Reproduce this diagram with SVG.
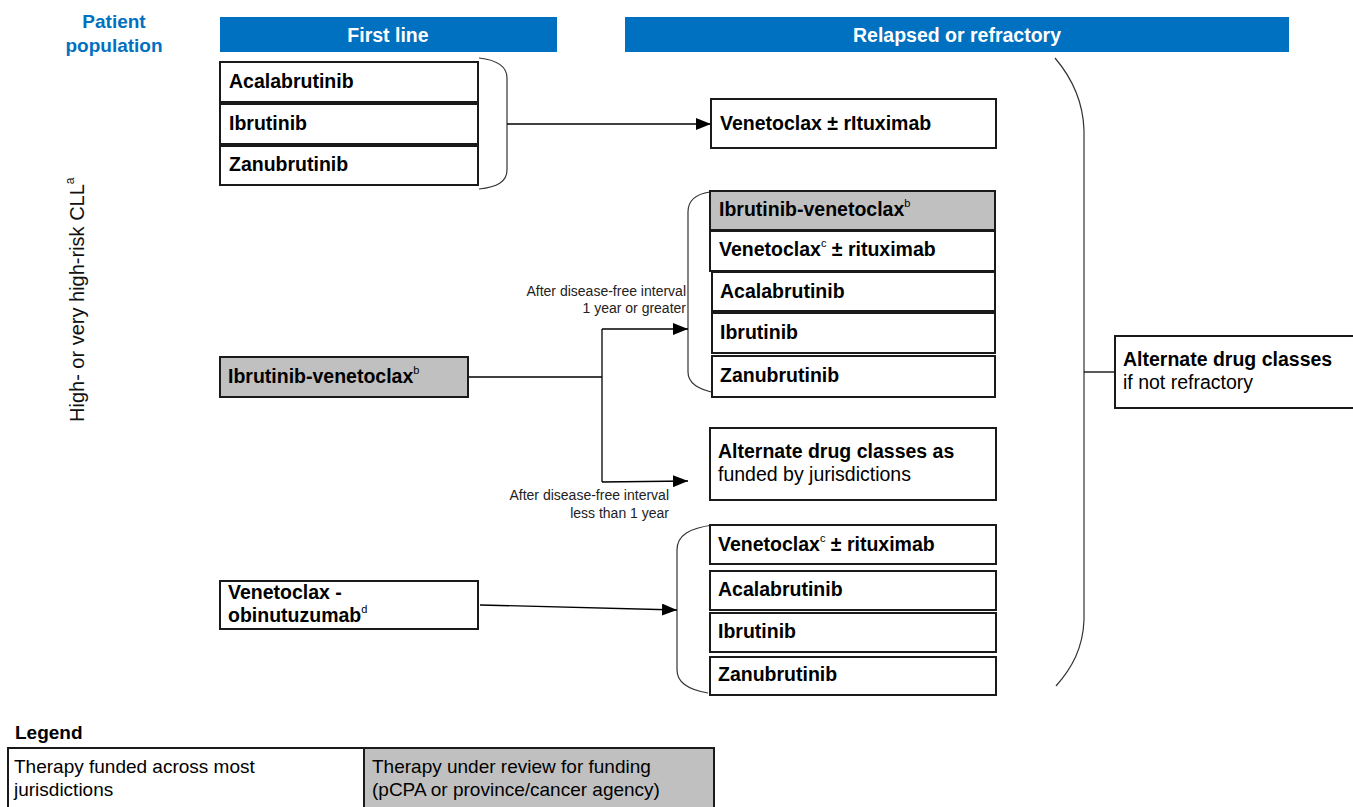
<svg xmlns="http://www.w3.org/2000/svg" width="1353" height="807" viewBox="0 0 1353 807">
<style>
.box{fill:#fff;stroke:#1a1a1a;stroke-width:2}
.gray{fill:#c0c0c0}
.hdr{fill:#0070c0}
.t{font-family:"Liberation Sans",Arial,sans-serif;font-size:19.5px;font-weight:bold;fill:#000}
.r{font-weight:normal}
.sup{font-size:11px;font-weight:normal}
.ht{font-family:"Liberation Sans",Arial,sans-serif;font-size:19.5px;font-weight:bold;fill:#fff;text-anchor:middle}
.pp{font-family:"Liberation Sans",Arial,sans-serif;font-size:19px;font-weight:bold;fill:#0070c0;text-anchor:middle}
.lbl{font-family:"Liberation Sans",Arial,sans-serif;font-size:14px;fill:#222;text-anchor:end}
.vl{font-family:"Liberation Sans",Arial,sans-serif;font-size:20px;fill:#111}
.lg{font-family:"Liberation Sans",Arial,sans-serif;font-size:19px;fill:#000}
.brace{fill:none;stroke:#333;stroke-width:1.2}
.conn{fill:none;stroke:#000;stroke-width:1.3}
</style>
<defs>
<marker id="arr" markerUnits="userSpaceOnUse" markerWidth="16" markerHeight="12" refX="15" refY="6" orient="auto">
<path d="M0,0 L15,6 L0,12 z" fill="#000"/>
</marker>
</defs>
<rect width="1353" height="807" fill="#fff"/>

<g id="headers">
<rect class="hdr" x="220" y="17" width="337" height="35"/>
<text class="ht" x="388" y="42">First line</text>
<rect class="hdr" x="625" y="17" width="664" height="35"/>
<text class="ht" x="957" y="42">Relapsed or refractory</text>
<text class="pp" x="114" y="28">Patient</text>
<text class="pp" x="114" y="52">population</text>
</g>

<g id="population-label">
<text class="vl" transform="translate(84,422) rotate(-90)">High- or very high-risk CLL<tspan dy="-10" font-size="12">a</tspan></text>
</g>

<g id="connectors">
<path class="brace" d="M479,58 C497,60 507,66 507,78 L507,170 C507,182 497,187 479,189"/>
<path class="conn" d="M507,124 L711,124" marker-end="url(#arr)"/>
<path class="brace" d="M710,192 C696,194 688,200 688,212 L688,372 C688,384 700,390 716,393"/>
<path class="conn" d="M468,377 L602,377"/>
<path class="conn" d="M602,329 L602,482"/>
<path class="conn" d="M602,329 L688,329" marker-end="url(#arr)"/>
<path class="conn" d="M602,482 L688,481" marker-end="url(#arr)"/>
<path class="brace" d="M713,525 C690,528 677,535 677,550 L677,670 C677,683 690,690 708,693"/>
<path class="conn" d="M480,605 L677,610" marker-end="url(#arr)"/>
<path class="brace" d="M1055,58 C1072,78 1083,100 1084,130 L1084,620 C1083,648 1072,668 1056,686"/>
<path class="conn" d="M1084,372 L1115,372"/>
<text class="lbl" x="686" y="296">After disease-free interval</text>
<text class="lbl" x="686" y="313">1 year or greater</text>
<text class="lbl" x="669" y="500">After disease-free interval</text>
<text class="lbl" x="669" y="518">less than 1 year</text>
</g>

<g id="fl-acalabrutinib"><rect class="box" x="220" y="62" width="258" height="40"/><text class="t" x="229" y="88">Acalabrutinib</text></g>
<g id="fl-ibrutinib"><rect class="box" x="220" y="104" width="258" height="40"/><text class="t" x="229" y="130">Ibrutinib</text></g>
<g id="fl-zanubrutinib"><rect class="box" x="220" y="146" width="258" height="39"/><text class="t" x="229" y="171">Zanubrutinib</text></g>
<g id="fl-ibrutinib-venetoclax"><rect class="box gray" x="220" y="357" width="248" height="40"/><text class="t" x="228" y="383">Ibrutinib-venetoclax<tspan class="sup" dy="-9">b</tspan></text></g>
<g id="fl-venetoclax-obinutuzumab"><rect class="box" x="220" y="581" width="258" height="48"/><text class="t" x="228" y="599">Venetoclax -</text><text class="t" x="228" y="622">obinutuzumab<tspan class="sup" dy="-9">d</tspan></text></g>

<g id="rr-venetoclax-rituximab"><rect class="box" x="711" y="99" width="285" height="49"/><text class="t" x="720" y="130">Venetoclax ± rItuximab</text></g>

<g id="rr2-ibrutinib-venetoclax"><rect class="box gray" x="710" y="191" width="285" height="39"/><text class="t" x="719" y="216">Ibrutinib-venetoclax<tspan class="sup" dy="-9">b</tspan></text></g>
<g id="rr2-venetoclax-rituximab"><rect class="box" x="710" y="231" width="285" height="40"/><text class="t" x="719" y="256">Venetoclax<tspan class="sup" dy="-9">c</tspan><tspan dy="9"> ± rituximab</tspan></text></g>
<g id="rr2-acalabrutinib"><rect class="box" x="712" y="272" width="283" height="39"/><text class="t" x="720" y="298">Acalabrutinib</text></g>
<g id="rr2-ibrutinib"><rect class="box" x="712" y="313" width="283" height="40"/><text class="t" x="720" y="339">Ibrutinib</text></g>
<g id="rr2-zanubrutinib"><rect class="box" x="712" y="356" width="283" height="41"/><text class="t" x="720" y="382">Zanubrutinib</text></g>

<g id="rr-alternate-funded"><rect class="box" x="710" y="428" width="286" height="72"/><text class="t" x="718" y="458">Alternate drug classes as</text><text class="t r" x="718" y="481">funded by jurisdictions</text></g>

<g id="rr3-venetoclax-rituximab"><rect class="box" x="710" y="525" width="286" height="39"/><text class="t" x="718" y="551">Venetoclax<tspan class="sup" dy="-9">c</tspan><tspan dy="9"> ± rituximab</tspan></text></g>
<g id="rr3-acalabrutinib"><rect class="box" x="710" y="571" width="286" height="39"/><text class="t" x="718" y="596">Acalabrutinib</text></g>
<g id="rr3-ibrutinib"><rect class="box" x="710" y="613" width="286" height="39"/><text class="t" x="718" y="638">Ibrutinib</text></g>
<g id="rr3-zanubrutinib"><rect class="box" x="710" y="657" width="286" height="38"/><text class="t" x="718" y="681">Zanubrutinib</text></g>

<g id="rr-alternate-not-refractory"><rect class="box" x="1115" y="336" width="240" height="72"/><text class="t" x="1123" y="366">Alternate drug classes</text><text class="t r" x="1123" y="389">if not refractory</text></g>

<g id="legend">
<text class="lg" font-weight="bold" x="15" y="739">Legend</text>
<rect class="box" x="8" y="748" width="356" height="62"/>
<rect class="box gray" x="364" y="748" width="350" height="62"/>
<text class="lg" x="14" y="773">Therapy funded across most</text>
<text class="lg" x="14" y="796">jurisdictions</text>
<text class="lg" x="372" y="773">Therapy under review for funding</text>
<text class="lg" x="372" y="796">(pCPA or province/cancer agency)</text>
</g>
</svg>
